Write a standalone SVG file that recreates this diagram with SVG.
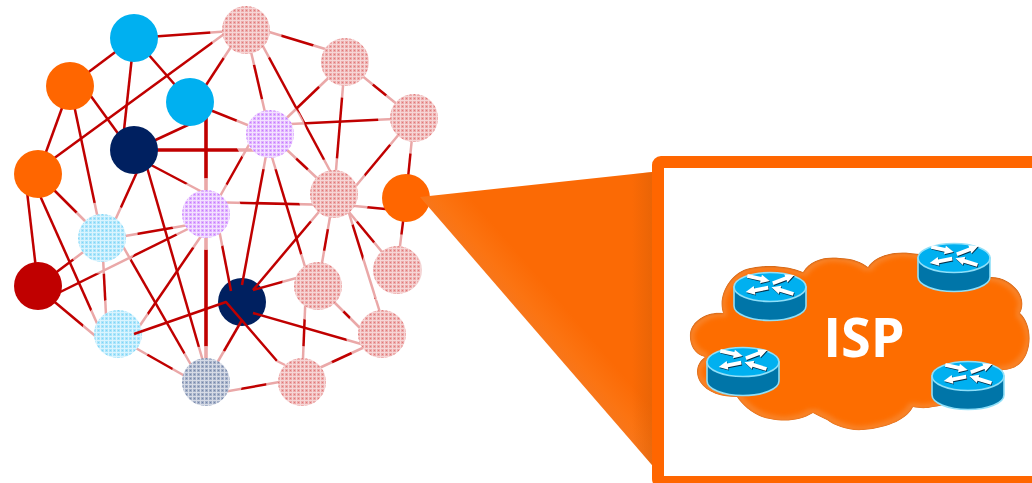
<svg xmlns="http://www.w3.org/2000/svg" width="1032" height="483" viewBox="0 0 1032 483">
<style>
.e{stroke:#c00000;stroke-width:2.5;fill:none}
.t{stroke:#c00000;stroke-width:3.6;fill:none}
.h{fill:#fff;fill-opacity:.66}
.orange{fill:#ff6600}
.cyan{fill:#00b0f0}
.navy{fill:#002060}
.red{fill:#c00000}
.pk{fill:url(#pPink)}
.pu{fill:url(#pPurple)}
.lb{fill:url(#pBlue)}
.gb{fill:url(#pGray)}
.rt{fill:#0075a8;stroke:#8fdff8;stroke-width:1.6}
.rc{fill:#00b0f0;stroke:#8fdff8;stroke-width:1.6}
.isp{font-family:"Open Sans","Liberation Sans",sans-serif;font-weight:700;font-size:54px;fill:#fff;text-anchor:middle}
</style>
<defs>
<pattern id="pPink" width="4" height="4" patternUnits="userSpaceOnUse"><rect width="4" height="4" fill="#edacac"/><path d="M0,.5H4M.5,0V4" stroke="#f6d6d6" stroke-width="1"/><rect x="2" y="2" width="1" height="1" fill="#e07878"/></pattern>
<pattern id="pPurple" width="4" height="4" patternUnits="userSpaceOnUse"><rect width="4" height="4" fill="#dfb0ff"/><path d="M0,.5H4M.5,0V4" stroke="#f3e2ff" stroke-width="1"/><rect x="2" y="2" width="1" height="1" fill="#c47cff"/></pattern>
<pattern id="pBlue" width="4" height="4" patternUnits="userSpaceOnUse"><rect width="4" height="4" fill="#abe5fb"/><path d="M0,.5H4M.5,0V4" stroke="#daf4fe" stroke-width="1"/><rect x="2" y="2" width="1" height="1" fill="#7fd4f6"/></pattern>
<pattern id="pGray" width="4" height="4" patternUnits="userSpaceOnUse"><rect width="4" height="4" fill="#a4b0c8"/><path d="M0,.5H4M.5,0V4" stroke="#d6dbe6" stroke-width="1"/><rect x="2" y="2" width="1" height="1" fill="#7586a8"/></pattern>
<linearGradient id="tri" gradientUnits="userSpaceOnUse" x1="536" y1="331" x2="580" y2="293"><stop offset="0" stop-color="#f8761a"/><stop offset=".2" stop-color="#fb7412"/><stop offset=".65" stop-color="#fb6a05"/></linearGradient>
<linearGradient id="triS" x1="0" y1="0" x2="1" y2="0"><stop offset="0" stop-color="#d85f08" stop-opacity="0"/><stop offset="1" stop-color="#d85f08" stop-opacity=".5"/></linearGradient>
<path id="cl" d="M705,357C693,354 689,343 690,333C692,320 708,311 723,313C717,296 730,272 750,268C768,264 790,266 803,272C810,260 825,256 840,258C852,258 862,262 868,267C875,255 895,251 910,253C940,255 975,268 990,277C1005,276 1020,288 1022,300C1023,305 1022,310 1020,313C1030,322 1032,340 1027,353C1022,366 1012,370 1003,370C985,385 955,405 933,407C925,409 918,408 913,407C908,418 890,428 863,430C848,431 835,426 827,420C822,418 817,415 813,413C800,421 785,422 770,419C755,417 742,405 737,397C722,397 707,393 700,382C695,374 696,363 705,357Z"/>
<clipPath id="clc"><use href="#cl"/></clipPath>
<filter id="bl" x="-5%" y="-5%" width="110%" height="110%"><feGaussianBlur stdDeviation="1"/></filter>
<filter id="in" x="-5%" y="-5%" width="110%" height="110%"><feMorphology operator="erode" radius="4"/><feGaussianBlur stdDeviation="2.2"/></filter>
<path id="ar" d="M-12,-1.9H2V-4.4L11,0L2,4.4V1.9H-12Z"/>
<g id="router">
<path class="rt" d="M-36,0V19A36,14.5 0 0 0 36,19V0Z"/>
<ellipse class="rc" rx="36" ry="14.5"/>
<g fill="#04304a" transform="translate(.6,.9)">
<use href="#ar" transform="translate(-11,-8.500) rotate(13)"/><use href="#ar" transform="translate(14,-8) rotate(-21)"/><use href="#ar" transform="translate(-13.500,3) rotate(169)"/><use href="#ar" transform="translate(12,3.500) rotate(197)"/>
</g>
<g fill="#fff">
<use href="#ar" transform="translate(-11,-8.500) rotate(13)"/><use href="#ar" transform="translate(14,-8) rotate(-21)"/><use href="#ar" transform="translate(-13.500,3) rotate(169)"/><use href="#ar" transform="translate(12,3.500) rotate(197)"/>
</g>
</g>
</defs>

<g id="node-q"><circle class="navy" cx="242" cy="302" r="24"/></g>

<g id="connectors">
<line class="e" x1="134" y1="38" x2="70" y2="86"/>
<line class="e" x1="134" y1="38" x2="246" y2="30"/>
<line class="e" x1="134" y1="38" x2="190" y2="102"/>
<line class="e" x1="134" y1="38" x2="124" y2="130"/>
<line class="e" x1="70" y1="86" x2="38" y2="174"/>
<line class="e" x1="85" y1="88" x2="130" y2="150"/>
<line class="e" x1="70" y1="86" x2="102" y2="238"/>
<line class="e" x1="38" y1="170" x2="246" y2="18"/>
<line class="e" x1="25" y1="174" x2="38" y2="286"/>
<line class="e" x1="33" y1="180" x2="100" y2="330"/>
<line class="e" x1="38" y1="174" x2="102" y2="238"/>
<line class="e" x1="134" y1="150" x2="190" y2="124"/>
<line class="t" x1="134" y1="150" x2="270" y2="150"/>
<line class="t" x1="206" y1="115" x2="206" y2="382"/>
<line class="e" x1="134" y1="156" x2="206" y2="194"/>
<line class="e" x1="147" y1="150" x2="107" y2="238"/>
<line class="e" x1="142" y1="150" x2="209" y2="382"/>
<line class="e" x1="195" y1="102" x2="242" y2="30"/>
<line class="e" x1="190" y1="102" x2="270" y2="134"/>
<line class="e" x1="246" y1="25" x2="345" y2="55"/>
<line class="e" x1="246" y1="30" x2="270" y2="134"/>
<line class="e" x1="252" y1="26" x2="335" y2="180"/>
<line class="e" x1="345" y1="62" x2="270" y2="134"/>
<line class="e" x1="345" y1="62" x2="334" y2="194"/>
<line class="e" x1="345" y1="62" x2="414" y2="118"/>
<line class="e" x1="414" y1="118" x2="270" y2="125"/>
<line class="e" x1="350" y1="193" x2="405" y2="127"/>
<line class="e" x1="414" y1="118" x2="406" y2="198"/>
<line class="e" x1="270" y1="134" x2="334" y2="194"/>
<line class="e" x1="255" y1="134" x2="210" y2="214"/>
<line class="e" x1="270" y1="134" x2="242" y2="285"/>
<line class="e" x1="265" y1="134" x2="312" y2="290"/>
<line class="e" x1="206" y1="202" x2="334" y2="205"/>
<line class="e" x1="334" y1="204" x2="406" y2="211"/>
<line class="e" x1="334" y1="194" x2="253" y2="290"/>
<line class="e" x1="334" y1="194" x2="318" y2="286"/>
<line class="e" x1="334" y1="194" x2="397" y2="270"/>
<line class="e" x1="348" y1="210" x2="383" y2="322"/>
<line class="e" x1="406" y1="198" x2="397" y2="270"/>
<line class="e" x1="206" y1="222" x2="102" y2="240"/>
<line class="e" x1="206" y1="220" x2="38" y2="303"/>
<line class="e" x1="130" y1="340" x2="208" y2="226"/>
<line class="e" x1="216" y1="214" x2="231" y2="291"/>
<line class="e" x1="102" y1="238" x2="38" y2="286"/>
<line class="e" x1="102" y1="238" x2="107" y2="334"/>
<line class="e" x1="105" y1="215" x2="206" y2="391"/>
<line class="e" x1="38" y1="288" x2="118" y2="355"/>
<line class="e" x1="118" y1="338" x2="206" y2="388"/>
<line class="e" x1="206" y1="382" x2="242" y2="320"/>
<line class="e" x1="206" y1="395" x2="302" y2="378"/>
<line class="e" x1="318" y1="272" x2="253" y2="290"/>
<line class="e" x1="306" y1="286" x2="302" y2="382"/>
<line class="e" x1="318" y1="286" x2="366" y2="334"/>
<line class="e" x1="253" y1="313" x2="382" y2="350"/>
<line class="e" x1="302" y1="376" x2="382" y2="339"/>
</g>

<g id="halos">
<circle class="h" cx="246" cy="30" r="36"/><circle class="h" cx="345" cy="62" r="36"/><circle class="h" cx="414" cy="118" r="36"/><circle class="h" cx="270" cy="134" r="36"/><circle class="h" cx="334" cy="194" r="36"/><circle class="h" cx="206" cy="214" r="36"/><circle class="h" cx="102" cy="238" r="36"/><circle class="h" cx="118" cy="334" r="36"/><circle class="h" cx="206" cy="382" r="36"/><circle class="h" cx="318" cy="286" r="36"/><circle class="h" cx="397" cy="270" r="36"/><circle class="h" cx="382" cy="334" r="36"/><circle class="h" cx="302" cy="382" r="36"/>
</g>

<g id="node-a"><circle class="cyan" cx="134" cy="38" r="24"/></g>
<g id="node-b"><circle class="orange" cx="70" cy="86" r="24"/></g>
<g id="node-c"><circle class="cyan" cx="190" cy="102" r="24"/></g>
<g id="node-d"><circle class="navy" cx="134" cy="150" r="24"/></g>
<g id="node-e"><circle class="orange" cx="38" cy="174" r="24"/></g>
<g id="node-f"><circle class="pk" cx="246" cy="30" r="24"/></g>
<g id="node-g"><circle class="pk" cx="345" cy="62" r="24"/></g>
<g id="node-h"><circle class="pk" cx="414" cy="118" r="24"/></g>
<g id="node-i"><circle class="pu" cx="270" cy="134" r="24"/></g>
<g id="node-j"><circle class="pk" cx="334" cy="194" r="24"/></g>
<g id="node-k"><circle class="orange" cx="406" cy="198" r="24"/></g>
<g id="node-l"><circle class="pu" cx="206" cy="214" r="24"/></g>
<g id="node-m"><circle class="lb" cx="102" cy="238" r="24"/></g>
<g id="node-n"><circle class="red" cx="38" cy="286" r="24"/></g>
<g id="node-o"><circle class="lb" cx="118" cy="334" r="24"/></g>
<g id="node-p"><circle class="gb" cx="206" cy="382" r="24"/></g>
<g id="node-r"><circle class="pk" cx="318" cy="286" r="24"/></g>
<g id="node-s"><circle cx="398.500" cy="270" r="23.500" fill="#f2d2d2"/><circle class="pk" cx="397" cy="270" r="24"/></g>
<g id="node-t"><circle class="pk" cx="382" cy="334" r="24"/></g>
<g id="node-u"><circle class="pk" cx="302" cy="382" r="24"/></g>

<g id="connector-over">
<polyline class="e" stroke-linejoin="round" points="134,334 226,302 277,361"/>
<line x1="277" y1="361" x2="285" y2="365" stroke="#eea8a8" stroke-width="2.500"/>
</g>

<g id="callout">
<polygon points="420,197 652,172 652,465" fill="url(#tri)"/>
<polygon points="632,174 652,172 652,465 632,442" fill="url(#triS)"/>
<rect x="658" y="162" width="400" height="320" rx="3" fill="none" stroke="#ff6600" stroke-width="12"/>
</g>

<g id="cloud">
<g clip-path="url(#clc)">
<use href="#cl" fill="#b9560f"/>
<use href="#cl" fill="#f98226" filter="url(#bl)" transform="translate(0,.5)"/>
<use href="#cl" fill="#fd6d05" filter="url(#in)"/>
</g>
<text class="isp" x="864" y="357">ISP</text>
</g>

<g id="router-1"><use href="#router" x="770" y="287"/></g>
<g id="router-2"><use href="#router" x="954" y="258"/></g>
<g id="router-3"><use href="#router" x="743" y="362"/></g>
<g id="router-4"><use href="#router" x="968" y="376"/></g>
</svg>
